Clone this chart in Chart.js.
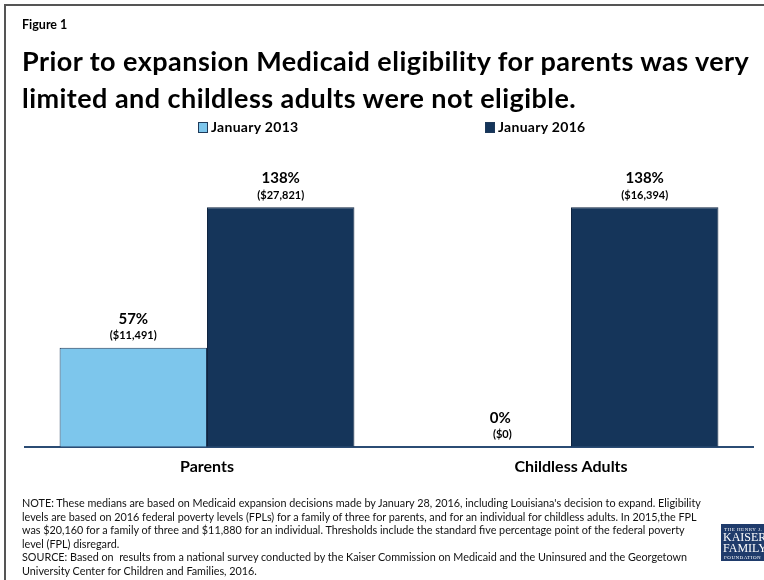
<!DOCTYPE html>
<html>
<head>
<meta charset="utf-8">
<script src="https://cdn.jsdelivr.net/npm/chart.js@4/dist/chart.umd.min.js"></script>
<style>
  html, body { margin: 0; padding: 0; background: #fff; }
  body { width: 764px; height: 580px; position: relative; overflow: hidden; font-family: Lato, "Noto Sans", sans-serif; color: #000; }
  #frame { position: absolute; left: 4px; top: 4px; width: 780px; height: 600px; border-left: 2px solid #555; border-top: 2px solid #555; }
  #chart { position: absolute; left: 0; top: 0; }
  #fig { position: absolute; left: 22px; top: 17px; font-size: 12.5px; font-weight: bold; }
  #title { position: absolute; left: 22px; top: 42px; font-size: 27px; letter-spacing: 0.45px; font-weight: bold; line-height: 37px; white-space: nowrap; }
  .leg { position: absolute; top: 118px; font-size: 14px; letter-spacing: 0.3px; font-weight: bold; white-space: nowrap; }
  .leg i { display: inline-block; width: 8px; height: 9px; border: 1px solid #1f3a5a; margin-right: 3px; vertical-align: -1px; }
  #note { position: absolute; left: 22px; top: 496px; font-size: 10.8px; line-height: 13.6px; color: #111; white-space: nowrap; }
  #logo { position: absolute; left: 721px; top: 524px; width: 60px; height: 37px; background: #1f3b6b; color: #fff; font-family: "Liberation Serif", serif; overflow: hidden; }
  #logo .s { font-size: 5px; letter-spacing: 0.5px; margin: 3px 0 0 3px; }
  #logo .b { font-size: 12px; line-height: 11px; margin-left: 2px; }
</style>
</head>
<body>
<div id="frame"></div>
<canvas id="chart" width="764" height="580"></canvas>
<div id="fig">Figure 1</div>
<div id="title">Prior to expansion Medicaid eligibility for parents was very<br>limited and childless adults were not eligible.</div>
<div id="legend"></div>
<div id="note">NOTE: These medians are based on Medicaid expansion decisions made by January 28, 2016, including Louisiana's decision to expand. Eligibility<br>levels are based on 2016 federal poverty levels (FPLs) for a family of three for parents, and for an individual for childless adults. In 2015,the FPL<br>was $20,160 for a family of three and $11,880 for an individual. Thresholds include the standard five percentage point of the federal poverty<br>level (FPL) disregard.<br>SOURCE: Based on &nbsp;results from a national survey conducted by the Kaiser Commission on Medicaid and the Uninsured and the Georgetown<br>University Center for Children and Families, 2016.</div>
<div id="logo"><div class="s">THE HENRY J.</div><div class="b">KAISER<br>FAMILY</div><div class="s" style="margin-top:1px">FOUNDATION</div></div>
<script>
const categories = ['Parents', 'Childless Adults'];
const seriesNames = ['January 2013', 'January 2016'];
const jan2013 = [57, 0];
const jan2016 = [138, 138];
const dollars2013 = ['($11,491)', '($0)'];
const dollars2016 = ['($27,821)', '($16,394)'];

const lightBlue = '#7dc6ec';
const darkBlue = '#15355a';

// html legend, spaced like the original
const legendX = [198, 485];
const legendEl = document.getElementById('legend');
[lightBlue, darkBlue].forEach((c, i) => {
    const d = document.createElement('div');
    d.className = 'leg';
    d.style.left = legendX[i] + 'px';
    d.innerHTML = `<i style="background:${c}"></i>${seriesNames[i]}`;
    legendEl.appendChild(d);
});

// percent + dollar labels above each bar
const valueLabels = {
    id: 'valueLabels',
    afterDatasetsDraw(chart) {
        const ctx = chart.ctx;
        ctx.save();
        ctx.fillStyle = '#000';
        ctx.textAlign = 'center';
        ctx.textBaseline = 'middle';
        chart.data.datasets.forEach((ds, di) => {
            chart.getDatasetMeta(di).data.forEach((bar, i) => {
                ctx.font = 'bold 15px Lato';
                ctx.fillText(ds.data[i] + '%', bar.x + (ds.data[i] === 0 ? 3 : 0), bar.y - 29);
                ctx.font = 'bold 11px Lato';
                ctx.fillText(ds.dollars[i], bar.x + (ds.data[i] === 0 ? 5 : 0), bar.y - 12);
            });
        });
        ctx.restore();
    }
};

const ctx = document.getElementById('chart').getContext('2d');
new Chart(ctx, {
    type: 'bar',
    data: {
        labels: categories,
        datasets: [
            { label: seriesNames[0], data: jan2013, dollars: dollars2013, backgroundColor: lightBlue, borderColor: '#1f3a5a', borderWidth: 1 },
            { label: seriesNames[1], data: jan2016, dollars: dollars2016, backgroundColor: darkBlue, borderColor: '#0f2440', borderWidth: 1 }
        ]
    },
    options: {
        responsive: false,
        animation: false,
        categoryPercentage: 0.81,
        barPercentage: 1.0,
        layout: { padding: { left: 25, right: 11, top: 169, bottom: 94 } },
        plugins: {
            legend: { display: false },
            tooltip: { enabled: false }
        },
        scales: {
            x: {
                grid: { display: false, drawTicks: false },
                border: { display: true, color: '#2b4c74', width: 2 },
                ticks: { color: '#000', padding: 10, font: { family: 'Lato', size: 16, weight: 'bold' } }
            },
            y: {
                display: false,
                min: 0,
                max: 160
            }
        }
    },
    plugins: [valueLabels]
});
</script>
</body>
</html>
